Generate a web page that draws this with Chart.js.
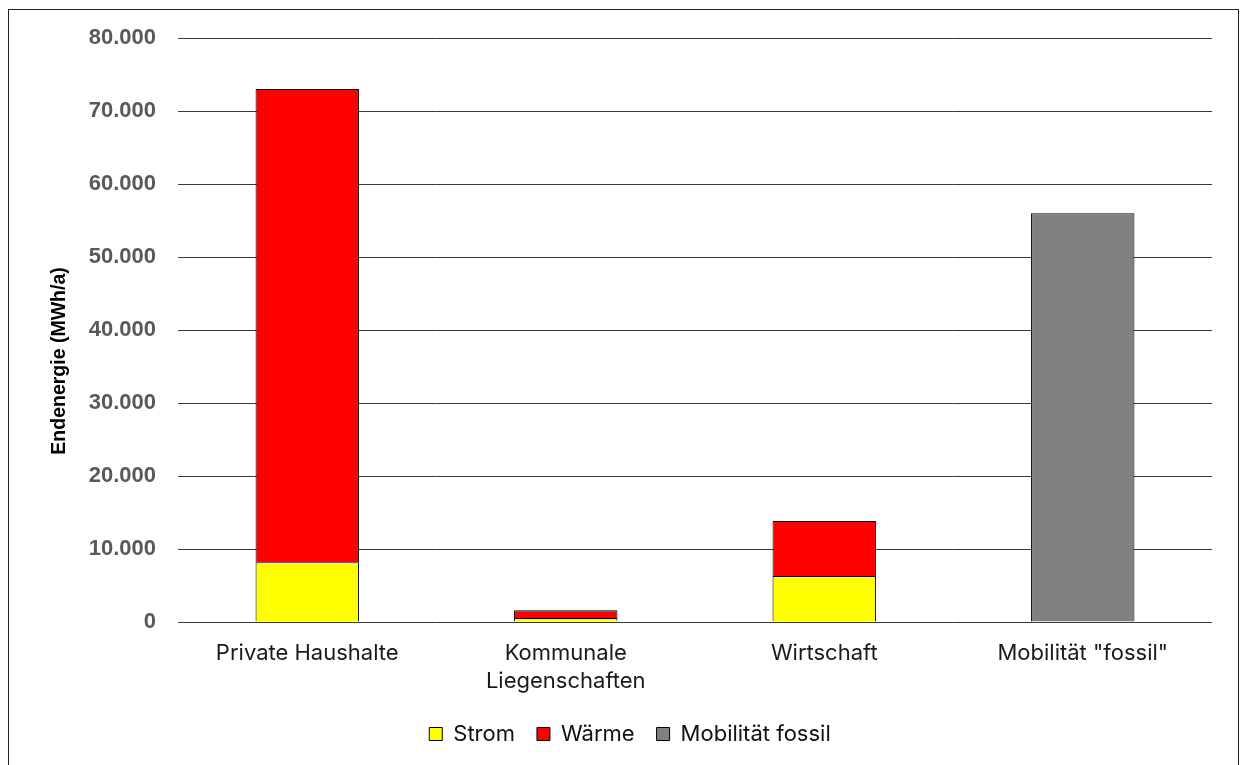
<!DOCTYPE html>
<html lang="de">
<head>
<meta charset="utf-8">
<script src="https://cdn.jsdelivr.net/npm/chart.js@4"></script>
<style>
  html, body { margin: 0; padding: 0; background: #fff; }
  #rahmen {
    position: absolute; left: 8px; top: 9px; width: 1231px; height: 800px;
    border: 1px solid #222; box-sizing: border-box;
  }
  #wrap { position: absolute; left: 0; top: 0; width: 1243px; height: 765px; }
</style>
</head>
<body>
<div id="rahmen"></div>
<div id="wrap"><canvas id="endenergieChart"></canvas></div>
<script>
// Sektoren (zweizeilige Beschriftung als Array)
const sektoren = ["Private Haushalte", ["Kommunale", "Liegenschaften"], "Wirtschaft", "Mobilität \"fossil\""];

// Endenergie in MWh/a
const strom = [8200, 550, 6300, null];
const waerme = [64800, 1050, 7550, null];
const mobilitaetFossil = [null, null, null, 56000];

// y-Achse
const yMax = 80000;
const yStep = 10000;
const yTitel = "Endenergie (MWh/a)";

const fmt = new Intl.NumberFormat("de-DE");

// Achsentitel etwas unterhalb der Mitte, wie im Excel-Original
const achsenTitel = {
  id: "achsenTitel",
  afterDraw(chart) {
    const { ctx, chartArea } = chart;
    const y = chartArea.top + (chartArea.bottom - chartArea.top) * 0.553;
    ctx.save();
    ctx.translate(60, y);
    ctx.rotate(-Math.PI / 2);
    ctx.font = "bold 19.5px 'Liberation Sans'";
    ctx.fillStyle = "#000";
    ctx.textAlign = "center";
    ctx.textBaseline = "middle";
    ctx.fillText(yTitel, 0, 0);
    ctx.restore();
  },
};

// Legende über die ganze Breite zentrieren (nicht nur über den Bereich links vom Rand)
const legendeVerschieben = {
  id: "legendeVerschieben",
  afterLayout(chart) {
    const lg = chart.legend;
    lg.left += 24;
    lg.right += 24;
  },
};

const ctx = document.getElementById("endenergieChart").getContext("2d");
const endenergieChart = new Chart(ctx, {
  type: "bar",
  data: {
    labels: sektoren,
    datasets: [
      {
        label: "Strom",
        data: strom,
        backgroundColor: "#FFFF00",
        borderColor: "#000",
        borderWidth: 1,
      },
      {
        label: "Wärme",
        data: waerme,
        backgroundColor: "#FF0000",
        borderColor: "#000",
        borderWidth: 1,
      },
      {
        label: "Mobilität fossil",
        data: mobilitaetFossil,
        backgroundColor: "#808080",
        borderColor: "#000",
        borderWidth: 1,
      },
    ],
  },
  plugins: [achsenTitel, legendeVerschieben],
  options: {
    responsive: true,
    maintainAspectRatio: false,
    animation: false,
    datasets: {
      bar: { barPercentage: 0.4, categoryPercentage: 1.0, skipNull: true },
    },
    layout: { padding: { top: 38, right: 31, bottom: 10, left: 0 } },
    plugins: {
      tooltip: { enabled: false },
      legend: {
        position: "bottom",
        labels: {
          boxWidth: 13,
          boxHeight: 13,
          padding: 22,
          color: "#111",
          font: { family: "Inter", size: 22 },
        },
      },
    },
    scales: {
      x: {
        stacked: true,
        grid: { display: false, drawTicks: false },
        border: { display: false },
        ticks: {
          color: "#1a1a1a",
          padding: 18,
          maxRotation: 0,
          font: { family: "Inter", size: 22, lineHeight: 1.25 },
        },
        afterFit: (scale) => { scale.height = 79; },
      },
      y: {
        stacked: true,
        min: 0,
        max: yMax,
        ticks: {
          stepSize: yStep,
          color: "#595959",
          padding: 22,
          font: { family: "Liberation Sans", size: 22, weight: "bold" },
          callback: (v) => fmt.format(v),
        },
        grid: { color: "#3a3a3a", lineWidth: 1, drawTicks: false },
        border: { display: false },
        afterFit: (scale) => { scale.width = 178; },
      },
    },
  },
});
</script>
</body>
</html>
